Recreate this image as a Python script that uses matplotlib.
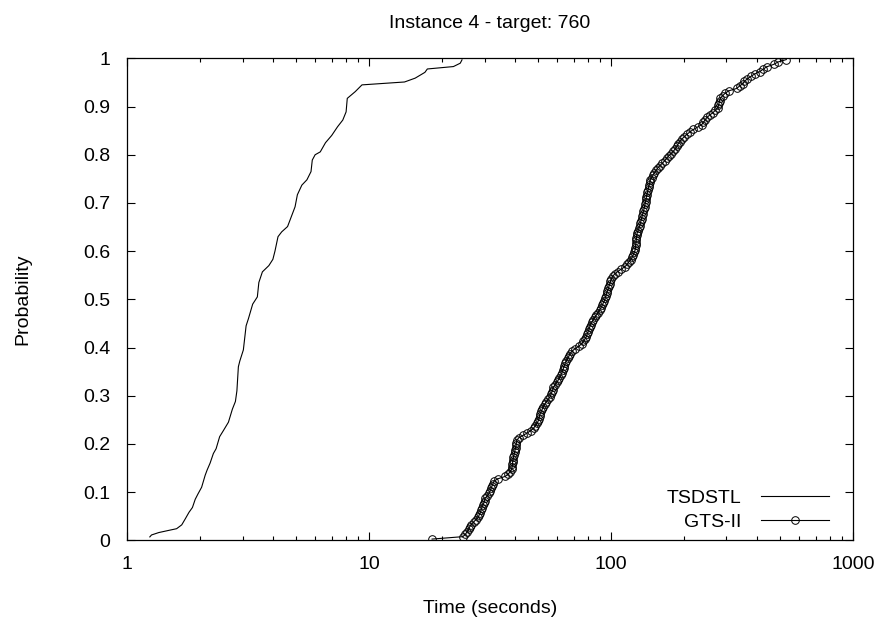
import matplotlib
matplotlib.use("Agg")
import matplotlib.pyplot as plt
from matplotlib.ticker import FixedLocator, LogLocator, NullFormatter

plt.rcParams['font.family'] = ['Liberation Sans', 'DejaVu Sans']

# TSDSTL curve (time in seconds, cumulative probability)
tsdstl_time = [1.24, 1.26, 1.35, 1.50, 1.60, 1.68, 1.74, 1.80, 1.86, 1.91,
               1.96, 2.03, 2.10, 2.14, 2.20, 2.27, 2.33, 2.41, 2.50, 2.62,
               2.72, 2.80, 2.84, 2.88, 2.92, 3.02, 3.10, 3.17, 3.30, 3.45,
               3.50, 3.62, 3.85, 4.00, 4.08, 4.20, 4.35, 4.60, 4.94, 5.05,
               5.27, 5.53, 5.75, 5.82, 5.98, 6.28, 6.60, 7.00, 7.40, 7.78,
               8.03, 8.12, 8.76, 9.34, 14.0, 15.5, 17.0, 17.4, 22.3, 23.8,
               24.2]
tsdstl_prob = [0.007, 0.011, 0.016, 0.021, 0.024, 0.032, 0.045, 0.058, 0.068, 0.085,
               0.096, 0.110, 0.135, 0.146, 0.160, 0.180, 0.190, 0.215, 0.228, 0.245,
               0.272, 0.288, 0.310, 0.360, 0.372, 0.395, 0.445, 0.460, 0.490, 0.505,
               0.535, 0.557, 0.570, 0.583, 0.600, 0.630, 0.640, 0.651, 0.692, 0.717,
               0.737, 0.748, 0.765, 0.789, 0.800, 0.806, 0.825, 0.840, 0.858, 0.872,
               0.889, 0.917, 0.931, 0.945, 0.951, 0.959, 0.971, 0.978, 0.983, 0.990,
               0.997]

# GTS-II sorted run times (200 runs)
gts_time = [18.2, 24.4, 25.0, 25.4, 25.8, 26.0, 26.4, 27.0, 27.6, 28.2,
            28.5, 28.8, 29.0, 29.2, 29.5, 29.8, 30.0, 30.2, 30.8, 31.3,
            31.6, 31.9, 32.2, 32.5, 32.8, 34.0, 36.5, 37.6, 38.3, 38.8,
            39.0, 39.1, 39.2, 39.3, 39.5, 39.7, 39.9, 40.1, 40.3, 40.5,
            40.6, 40.8, 41.5, 43.2, 45.0, 46.5, 47.8, 48.6, 49.3, 50.0,
            50.3, 50.6, 50.9, 51.4, 52.0, 52.5, 53.2, 54.0, 55.0, 55.9,
            56.4, 56.9, 57.4, 57.8, 58.6, 59.5, 60.5, 61.2, 62.0, 62.6,
            63.1, 63.6, 64.1, 64.6, 65.4, 66.2, 67.0, 67.7, 69.0, 71.0,
            73.5, 75.5, 76.8, 78.0, 79.0, 79.6, 80.3, 81.0, 81.6, 82.3,
            83.3, 84.3, 85.5, 87.0, 88.3, 89.6, 90.8, 91.8, 92.8, 93.9,
            94.5, 95.2, 95.9, 96.6, 97.3, 98.0, 98.7, 99.4, 100.3, 101.5,
            103.5, 106.5, 110.0, 114.0, 116.5, 118.3, 120.5, 122.3, 123.5, 124.8,
            125.8, 126.1, 126.4, 126.7, 127.0, 127.3, 127.6, 128.2, 129.2, 130.4,
            131.3, 132.0, 132.8, 133.6, 134.4, 135.2, 136.0, 136.8, 137.5, 138.2,
            138.8, 139.4, 140.0, 140.6, 141.4, 142.2, 143.0, 143.8, 144.6, 145.4,
            147.0, 149.0, 151.0, 153.5, 156.0, 159.0, 163.0, 166.5, 169.5, 172.8,
            177.0, 181.0, 184.5, 187.0, 189.5, 192.0, 196.0, 201.0, 206.0, 212.0,
            219.0, 228.0, 237.0, 241.0, 245.0, 249.0, 256.0, 264.0, 270.0, 276.0,
            278.0, 279.5, 281.0, 283.0, 289.0, 296.0, 306.0, 330.0, 340.0, 350.0,
            356.0, 366.0, 378.0, 392.0, 412.0, 425.0, 440.0, 470.0, 490.0, 530.0]
# empirical probability of the i-th sorted run: (i - 0.5) / n
gts_prob = [(i + 0.5) / len(gts_time) for i in range(len(gts_time))]

x_ticks = [1, 10, 100, 1000]
x_ticklabels = ["1", "10", "100", "1000"]
y_ticks = [0, 0.1, 0.2, 0.3, 0.4, 0.5, 0.6, 0.7, 0.8, 0.9, 1]
y_ticklabels = ["0", "0.1", "0.2", "0.3", "0.4", "0.5", "0.6", "0.7", "0.8", "0.9", "1"]

fig = plt.figure(figsize=(8.96, 6.21), dpi=100)
ax = fig.add_axes([0.142, 0.130, 0.810, 0.776])

ax.plot(tsdstl_time, tsdstl_prob, color="black", lw=0.8, label="TSDSTL")
ax.plot(gts_time, gts_prob, color="black", lw=0.8, marker="o", ms=5.5,
        mfc="none", mec="black", mew=0.7, label="GTS-II")

ax.set_xscale("log")
ax.set_xlim(1, 1000)
ax.set_ylim(0, 1)
ax.xaxis.set_major_locator(FixedLocator(x_ticks))
ax.set_xticklabels(x_ticklabels)
ax.xaxis.set_minor_locator(LogLocator(base=10, subs=range(2, 10)))
ax.xaxis.set_minor_formatter(NullFormatter())
ax.set_yticks(y_ticks)
ax.set_yticklabels(y_ticklabels)

ax.tick_params(which="both", direction="in", top=True, right=True,
               labelsize=14, width=0.8)
ax.tick_params(which="major", length=6)
ax.tick_params(which="minor", length=3)
ax.tick_params(axis="x", which="major", pad=11)
ax.tick_params(axis="y", which="major", pad=12)
for s in ax.spines.values():
    s.set_linewidth(0.9)

ax.set_title("Instance 4 - target: 760", fontsize=14, pad=22)
ax.set_xlabel("Time (seconds)", fontsize=14, labelpad=20)
ax.set_ylabel("Probability", fontsize=14)
ax.yaxis.set_label_coords(-0.132, 0.5)

ax.legend(loc="lower right", bbox_to_anchor=(0.978, 0.004), borderaxespad=0,
          frameon=False, markerfirst=False, fontsize=14,
          handlelength=3.5, handletextpad=1.0, labelspacing=0.3)

fig.savefig("out.png", dpi=100)
